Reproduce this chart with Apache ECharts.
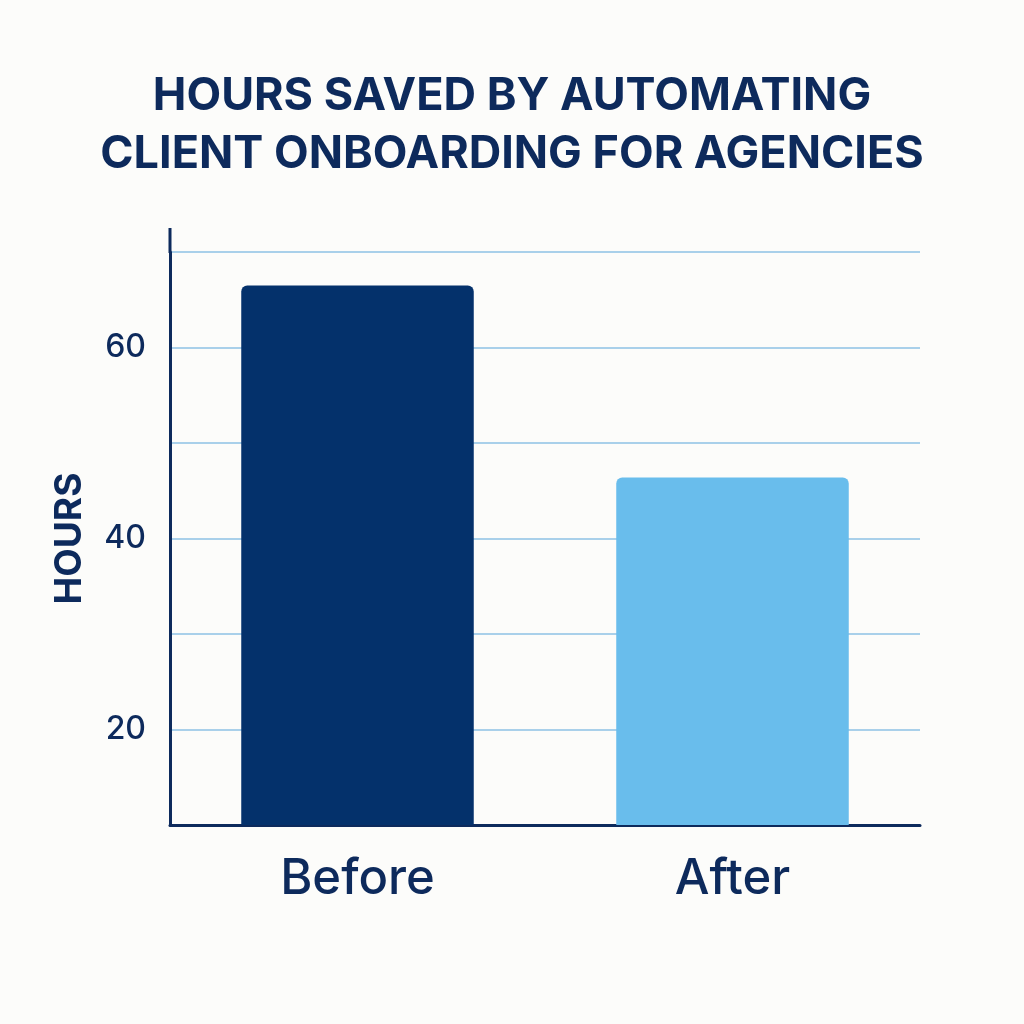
<!DOCTYPE html>
<html>
<head>
<meta charset="utf-8">
<script src="https://cdn.jsdelivr.net/npm/echarts@6/dist/echarts.min.js"></script>
<style>
  html, body { margin: 0; padding: 0; background: #fcfcfa; }
  #main { width: 1024px; height: 1024px; }
</style>
</head>
<body>
<div id="main"></div>
<script>
const categories = ['Before', 'After'];
const hours = [66.5, 46.4];
const barColors = ['#04316b', '#69bdec'];
const shownTicks = [20, 40, 60];

const chart = echarts.init(document.getElementById('main'));
const dark = '#0d2a5c';

chart.setOption({
  backgroundColor: '#fcfcfa',
  title: {
    text: 'HOURS SAVED BY AUTOMATING\nCLIENT ONBOARDING FOR AGENCIES',
    left: 'center',
    top: 62,
    textStyle: {
      fontFamily: 'Inter', fontWeight: 'bold', fontSize: 45,
      lineHeight: 58, color: dark
    }
  },
  grid: { left: 170, right: 104, top: 252, bottom: 199 },
  xAxis: {
    type: 'category',
    data: categories,
    axisLine: { lineStyle: { color: dark, width: 3 } },
    axisTick: { show: false },
    axisLabel: {
      margin: 30, fontSize: 49, fontFamily: 'Inter',
      fontWeight: 500, color: dark
    }
  },
  yAxis: {
    type: 'value',
    min: 10, max: 70, interval: 10,
    name: 'HOURS',
    nameLocation: 'middle',
    nameGap: 82,
    nameTextStyle: { fontSize: 37, fontFamily: 'Inter', fontWeight: 'bold', color: dark },
    axisLine: { show: true, lineStyle: { color: dark, width: 3 } },
    axisTick: { show: false },
    axisLabel: {
      margin: 24, fontSize: 32, fontFamily: 'Inter', fontWeight: 500, color: dark,
      formatter: v => shownTicks.includes(v) ? String(v) : ''
    },
    splitLine: { lineStyle: { color: '#a9d0ea', width: 2 } }
  },
  graphic: [{
    type: 'line',
    shape: { x1: 170, y1: 228, x2: 170, y2: 253 },
    style: { stroke: dark, lineWidth: 3 }
  }],
  series: [{
    type: 'bar',
    barWidth: '62%',
    data: hours.map((v, i) => ({
      value: v,
      itemStyle: { color: barColors[i], borderRadius: [6, 6, 0, 0] }
    }))
  }]
});
</script>
</body>
</html>
